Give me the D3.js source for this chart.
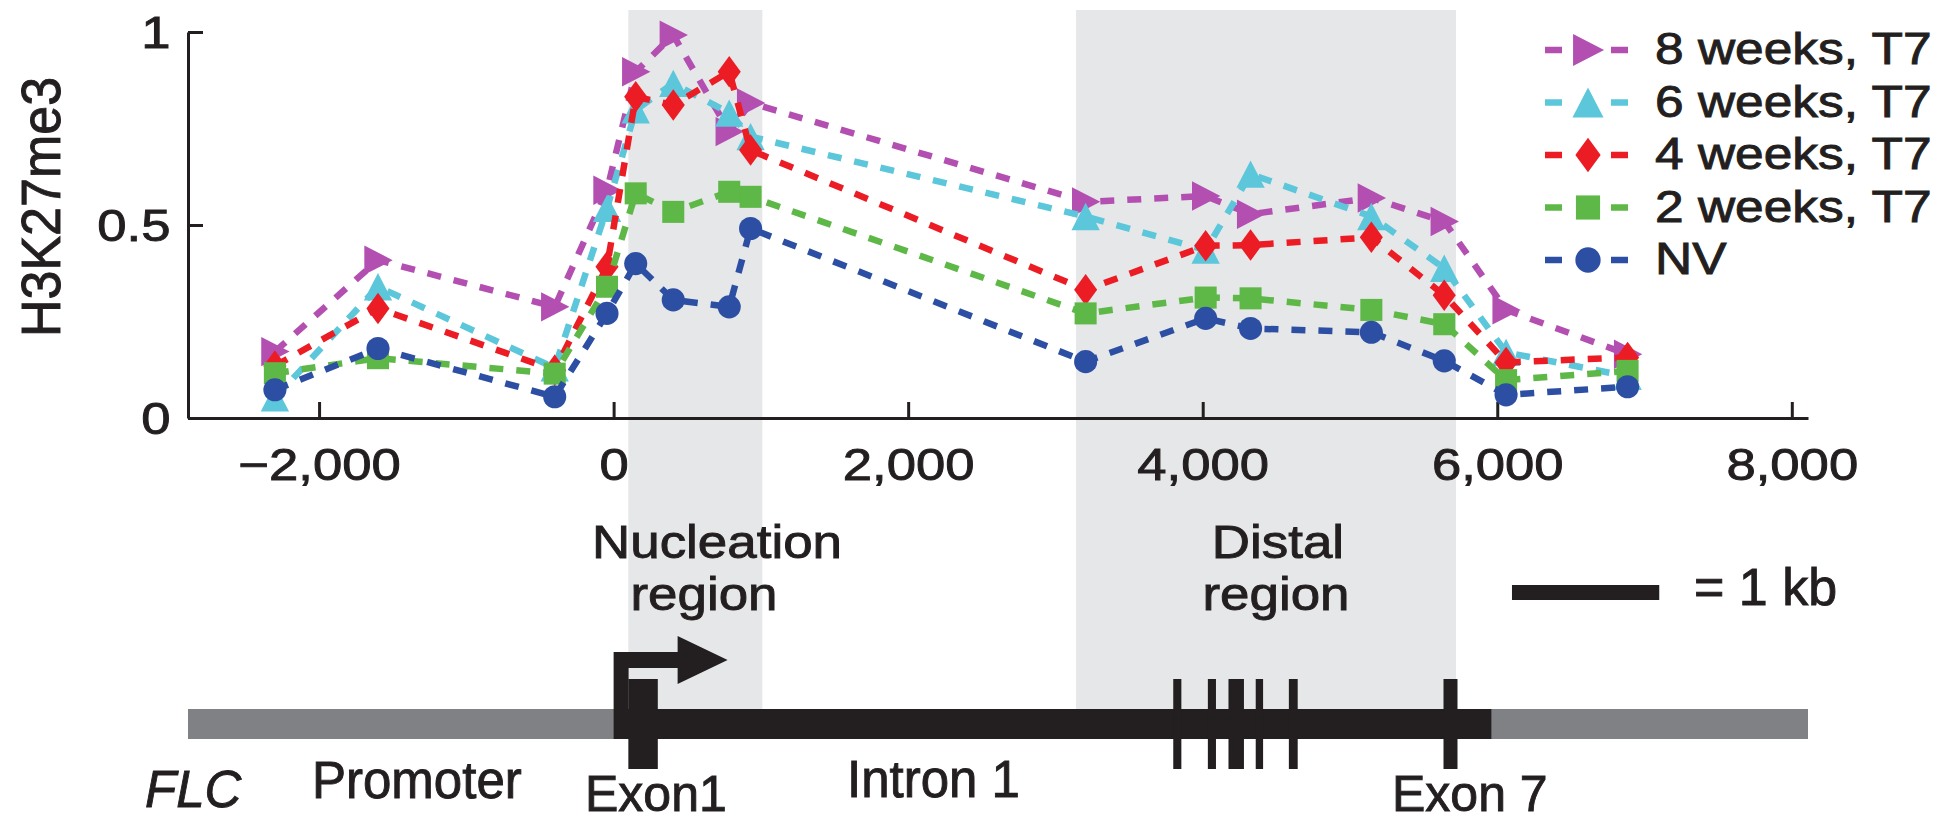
<!DOCTYPE html>
<html>
<head>
<meta charset="utf-8">
<script src="https://cdn.jsdelivr.net/npm/d3@7"></script>
<style>
  body { margin: 0; background: #fff; }
  svg { display: block; font-family: "Liberation Sans", Arial, Helvetica, sans-serif; fill: #231f20; }
  svg text { stroke: #231f20; stroke-width: 0.9px; }
</style>
</head>
<body>
<script>
// positions along FLC (bp) where ChIP was measured
var positions = [-2300, -1600, -400, -45, 150, 405, 785, 930, 3205, 4020, 4325, 5145, 5640, 6060, 6885];

var seriesNames = ["8 weeks, T7", "6 weeks, T7", "4 weeks, T7", "2 weeks, T7", "NV"];
var weeks8 = [0.172, 0.409, 0.288, 0.59, 0.897, 0.992, 0.742, 0.816, 0.56, 0.575, 0.528, 0.57, 0.509, 0.28, 0.165];
var weeks6 = [0.052, 0.34, 0.13, 0.543, 0.798, 0.867, 0.79, 0.729, 0.522, 0.435, 0.632, 0.522, 0.388, 0.17, 0.108];
var weeks4 = [0.135, 0.284, 0.124, 0.392, 0.832, 0.811, 0.897, 0.694, 0.332, 0.446, 0.448, 0.468, 0.318, 0.144, 0.157];
var weeks2 = [0.116, 0.155, 0.115, 0.34, 0.582, 0.534, 0.586, 0.573, 0.271, 0.312, 0.31, 0.28, 0.243, 0.098, 0.122];
var nv = [0.073, 0.18, 0.055, 0.271, 0.40, 0.306, 0.288, 0.491, 0.146, 0.258, 0.232, 0.222, 0.148, 0.06, 0.081];

var xTicks = [-2000, 0, 2000, 4000, 6000, 8000];
var yTicks = [0, 0.5, 1];

// shaded regions and gene model (bp)
var regions = [[100, 1010], [3140, 5720]];
var transcript = [0, 5960];
var exons = [[100, 300], [3800, 3855], [4035, 4090], [4175, 4280], [4360, 4410], [4585, 4645], [5635, 5730]];
var scaleBar = [6100, 7100];

var colors = ["#b44fb2", "#5cc6da", "#ec1c24", "#5eb847", "#2d4fa3"];
var shapes = ["triRight", "triUp", "diamond", "square", "circle"];
var values = [weeks8, weeks6, weeks4, weeks2, nv];

var svg = d3.select("body").append("svg")
  .attr("width", 1960)
  .attr("height", 822);

var x = d3.scaleLinear().domain([-2890, 8110]).range([188, 1808]);
var y = d3.scaleLinear().domain([0, 1]).range([418, 32]);

var SX = 1.17; // top panel text is stretched sideways

function stretchText(parent, px, py, str, size, sx, anchor) {
  var g = parent.append("g").attr("transform", "translate(" + px + "," + py + ") scale(" + sx + ",1)");
  return g.append("text")
    .attr("text-anchor", anchor || "start")
    .style("font-size", size + "px")
    .text(str);
}

function markerPath(shape, k) {
  var p = d3.path();
  if (shape === "circle") {
    p.arc(0, 0, 11 * k, 0, 2 * Math.PI);
  } else if (shape === "square") {
    var s = 10.5 * k;
    p.rect(-s, -s, 2 * s, 2 * s);
  } else if (shape === "diamond") {
    p.moveTo(0, -15 * k); p.lineTo(11 * k, 0); p.lineTo(0, 15 * k); p.lineTo(-11 * k, 0);
    p.closePath();
  } else if (shape === "triUp") {
    p.moveTo(0, -13 * k); p.lineTo(13.5 * k, 13 * k); p.lineTo(-13.5 * k, 13 * k);
    p.closePath();
  } else {
    p.moveTo(-13 * k, -14 * k); p.lineTo(14 * k, 0); p.lineTo(-13 * k, 14 * k);
    p.closePath();
  }
  return p.toString();
}

// shaded regions
svg.selectAll("rect.region")
  .data(regions)
  .enter()
  .append("rect")
  .attr("class", "region")
  .attr("x", d => x(d[0]))
  .attr("width", d => x(d[1]) - x(d[0]))
  .attr("y", 10)
  .attr("height", 709 - 10)
  .attr("fill", "#e6e7e8");

// axes
var xAxis = svg.append("g")
  .attr("transform", "translate(0," + y(0) + ")")
  .call(d3.axisBottom(x).tickValues(xTicks).tickSizeInner(-16).tickSizeOuter(0).tickFormat(d3.format(",")));

var yAxis = svg.append("g")
  .attr("transform", "translate(" + x.range()[0] + ",0)")
  .call(d3.axisLeft(y).tickValues(yTicks).tickSizeInner(-15).tickSizeOuter(0).tickFormat(d => d));

[xAxis, yAxis].forEach(function (a) {
  a.select(".domain").attr("stroke", "#231f20").attr("stroke-width", 3);
  a.selectAll(".tick line").attr("stroke", "#231f20").attr("stroke-width", 3);
  a.selectAll("text").attr("fill", "#231f20").style("font-size", "45px");
  a.attr("font-family", null).attr("font-size", null);
});

xAxis.selectAll("text")
  .attr("y", 62)
  .attr("dy", 0)
  .attr("transform", "scale(" + SX + ",1)");

yAxis.selectAll("text")
  .attr("x", -15)
  .attr("dy", 0)
  .attr("y", 15)
  .attr("transform", "scale(" + SX + ",1)");

// y axis title
svg.append("g")
  .attr("transform", "translate(60,207) scale(1.08,1) rotate(-90)")
  .append("text")
  .attr("text-anchor", "middle")
  .style("font-size", "52px")
  .text("H3K27me3");

// series
var line = d3.line()
  .x((d, i) => x(positions[i]))
  .y(d => y(d));

values.forEach(function (vals, s) {
  var g = svg.append("g");
  g.append("path")
    .datum(vals)
    .attr("d", line)
    .attr("fill", "none")
    .attr("stroke", colors[s])
    .attr("stroke-width", 6.5)
    .attr("stroke-dasharray", "14,13");

  g.selectAll("path.mk")
    .data(vals)
    .enter()
    .append("path")
    .attr("class", "mk")
    .attr("transform", (d, i) => "translate(" + x(positions[i]) + "," + y(d) + ")")
    .attr("d", markerPath(shapes[s], 1.05))
    .attr("fill", colors[s]);
});

// legend
var legend = svg.append("g");
seriesNames.forEach(function (name, i) {
  var cy = 50 + i * 52.5;
  legend.append("line")
    .attr("x1", 1545).attr("x2", 1628)
    .attr("y1", cy).attr("y2", cy)
    .attr("stroke", colors[i])
    .attr("stroke-width", 6.5)
    .attr("stroke-dasharray", "17,49");
  legend.append("path")
    .attr("transform", "translate(1588," + cy + ")")
    .attr("d", markerPath(shapes[i], 1.15))
    .attr("fill", colors[i]);
  stretchText(legend, 1655, cy + 14, name, 44, SX, "start");
});

// region labels
stretchText(svg, 717, 558, "Nucleation", 46, 1.15, "middle");
stretchText(svg, 704, 610, "region", 46, 1.15, "middle");
stretchText(svg, 1278, 558, "Distal", 46, 1.15, "middle");
stretchText(svg, 1276, 610, "region", 46, 1.15, "middle");

// scale bar
svg.append("rect")
  .attr("x", x(scaleBar[0]))
  .attr("width", x(scaleBar[1]) - x(scaleBar[0]))
  .attr("y", 585)
  .attr("height", 15)
  .attr("fill", "#231f20");
svg.append("text")
  .attr("x", 1694).attr("y", 605)
  .style("font-size", "52px")
  .text("= 1 kb");

// gene model
var gene = svg.append("g");
gene.append("rect")
  .attr("x", x.range()[0])
  .attr("width", x.range()[1] - x.range()[0])
  .attr("y", 709).attr("height", 30)
  .attr("fill", "#808184");
gene.append("rect")
  .attr("x", x(transcript[0]))
  .attr("width", x(transcript[1]) - x(transcript[0]))
  .attr("y", 709).attr("height", 30)
  .attr("fill", "#231f20");
gene.selectAll("rect.exon")
  .data(exons)
  .enter()
  .append("rect")
  .attr("class", "exon")
  .attr("x", d => x(d[0]))
  .attr("width", d => x(d[1]) - x(d[0]))
  .attr("y", 679).attr("height", 90)
  .attr("fill", "#231f20");

// transcription start arrow
var x0 = x(transcript[0]);
var arrow = d3.path();
arrow.moveTo(x0, 709);
arrow.lineTo(x0, 652);
arrow.lineTo(x0 + 64, 652);
arrow.lineTo(x0 + 64, 636);
arrow.lineTo(x0 + 114, 660);
arrow.lineTo(x0 + 64, 684);
arrow.lineTo(x0 + 64, 668);
arrow.lineTo(x0 + 15, 668);
arrow.lineTo(x0 + 15, 709);
arrow.closePath();
gene.append("path").attr("d", arrow.toString()).attr("fill", "#231f20");

// gene labels
svg.append("text").attr("x", 145).attr("y", 807).style("font-size", "51px").style("font-style", "italic").text("FLC");
svg.append("text").attr("x", 312).attr("y", 798).style("font-size", "51px").text("Promoter");
svg.append("text").attr("x", 585).attr("y", 811).style("font-size", "50px").text("Exon1");
svg.append("text").attr("x", 847).attr("y", 797).style("font-size", "51px").text("Intron 1");
svg.append("text").attr("x", 1392).attr("y", 811).style("font-size", "50px").text("Exon 7");
</script>
</body>
</html>
